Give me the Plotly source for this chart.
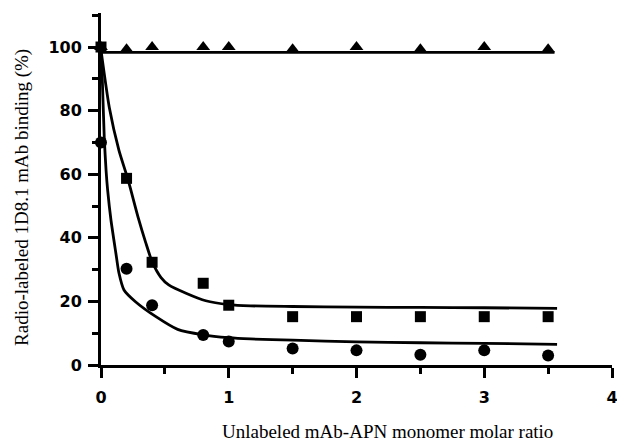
import plotly.graph_objects as go

# Measured data points
x_data = [0, 0.2, 0.4, 0.8, 1.0, 1.5, 2.0, 2.5, 3.0, 3.5]
triangle_y = [100, 99.3, 100, 100, 100, 99.3, 100, 99.3, 100, 99.3]
square_y = [100, 58.7, 32.3, 25.7, 18.8, 15.2, 15.2, 15.2, 15.2, 15.2]
circle_x = [0, 0.2, 0.4, 0.8, 1.0, 1.5, 2.0, 2.5, 3.0, 3.5]
circle_y = [70, 30.3, 18.8, 9.4, 7.4, 5.2, 4.6, 3.2, 4.6, 3.0]

# Fitted curves
tri_fit_x = [0, 3.55]
tri_fit_y = [98.3, 98.3]
sq_fit_x = [0, 0.065, 0.14, 0.21, 0.29, 0.35, 0.40, 0.47, 0.53, 0.67, 0.82, 1.0, 1.17, 1.5, 2.0, 2.5, 3.0, 3.57]
sq_fit_y = [99, 81, 67.6, 58.5, 46.5, 38.5, 32.5, 27.5, 25.2, 22.5, 20.2, 19.0, 18.6, 18.4, 18.2, 18.1, 18.0, 17.8]
ci_fit_x = [0, 0.01, 0.026, 0.04, 0.052, 0.078, 0.117, 0.14, 0.18, 0.27, 0.43, 0.6, 0.8, 1.0, 1.17, 1.5, 2.0, 2.5, 3.0, 3.57]
ci_fit_y = [99, 90, 71, 61, 55, 45.6, 35, 29, 23.6, 19.9, 15.2, 11.2, 9.5, 8.6, 8.2, 7.8, 7.3, 7.0, 6.8, 6.5]

x_ticks = [0, 1, 2, 3, 4]
y_ticks = [0, 20, 40, 60, 80, 100]

x_title = "Unlabeled mAb-APN monomer molar ratio"
y_title = "Radio-labeled 1D8.1 mAb binding (%)"

fig = go.Figure()
line_style = dict(color="black", width=2.8)
fig.add_trace(go.Scatter(x=tri_fit_x, y=tri_fit_y, mode="lines", line=line_style, hoverinfo="skip", cliponaxis=False))
fig.add_trace(go.Scatter(x=sq_fit_x, y=sq_fit_y, mode="lines", line=dict(line_style, shape="spline", smoothing=0.6), cliponaxis=False))
fig.add_trace(go.Scatter(x=ci_fit_x, y=ci_fit_y, mode="lines", line=dict(line_style, shape="spline", smoothing=0.6), cliponaxis=False))
fig.add_trace(go.Scatter(x=x_data, y=triangle_y, mode="markers",
                         marker=dict(symbol="triangle-up", size=12, color="black"), cliponaxis=False))
fig.add_trace(go.Scatter(x=circle_x, y=circle_y, mode="markers",
                         marker=dict(symbol="circle", size=12, color="black"), cliponaxis=False))
fig.add_trace(go.Scatter(x=x_data, y=square_y, mode="markers",
                         marker=dict(symbol="square", size=11, color="black"), cliponaxis=False))

tick_font = dict(family="DejaVu Sans", size=16, color="black", weight="bold")
title_font = dict(family="Liberation Serif", size=19, color="black")

# The page places the figure 8px in from the top-left corner
fig.update_layout(
    width=617, height=433,
    margin=dict(l=93, r=13, t=5, b=76),
    paper_bgcolor="white", plot_bgcolor="white",
    showlegend=False,
    xaxis=dict(range=[0, 4], tickvals=x_ticks, ticktext=[str(v) for v in x_ticks],
               showline=True, linecolor="black", linewidth=3, showgrid=False, zeroline=False,
               ticks="outside", ticklen=10, tickwidth=2.5, tickcolor="black",
               tickfont=tick_font, ticklabelstandoff=6,
               minor=dict(dtick=0.5, ticks="outside", ticklen=6, tickwidth=2.5, tickcolor="black", showgrid=False)),
    yaxis=dict(range=[0, 110.7], tickvals=y_ticks, ticktext=[str(v) for v in y_ticks],
               showline=True, linecolor="black", linewidth=3, showgrid=False, zeroline=False,
               ticks="outside", ticklen=10, tickwidth=2.5, tickcolor="black",
               tickfont=tick_font, ticklabelstandoff=3,
               minor=dict(dtick=10, ticks="outside", ticklen=6, tickwidth=2.5, tickcolor="black", showgrid=False)),
    annotations=[
        dict(text=x_title, xref="paper", yref="paper", x=0.56, y=-0.19,
             xanchor="center", yanchor="middle", showarrow=False, font=title_font),
        dict(text=y_title, xref="paper", yref="paper", x=-0.155, y=0.477,
             xanchor="center", yanchor="middle", showarrow=False, textangle=-90, font=title_font),
    ],
)

fig.write_html("out.html")
